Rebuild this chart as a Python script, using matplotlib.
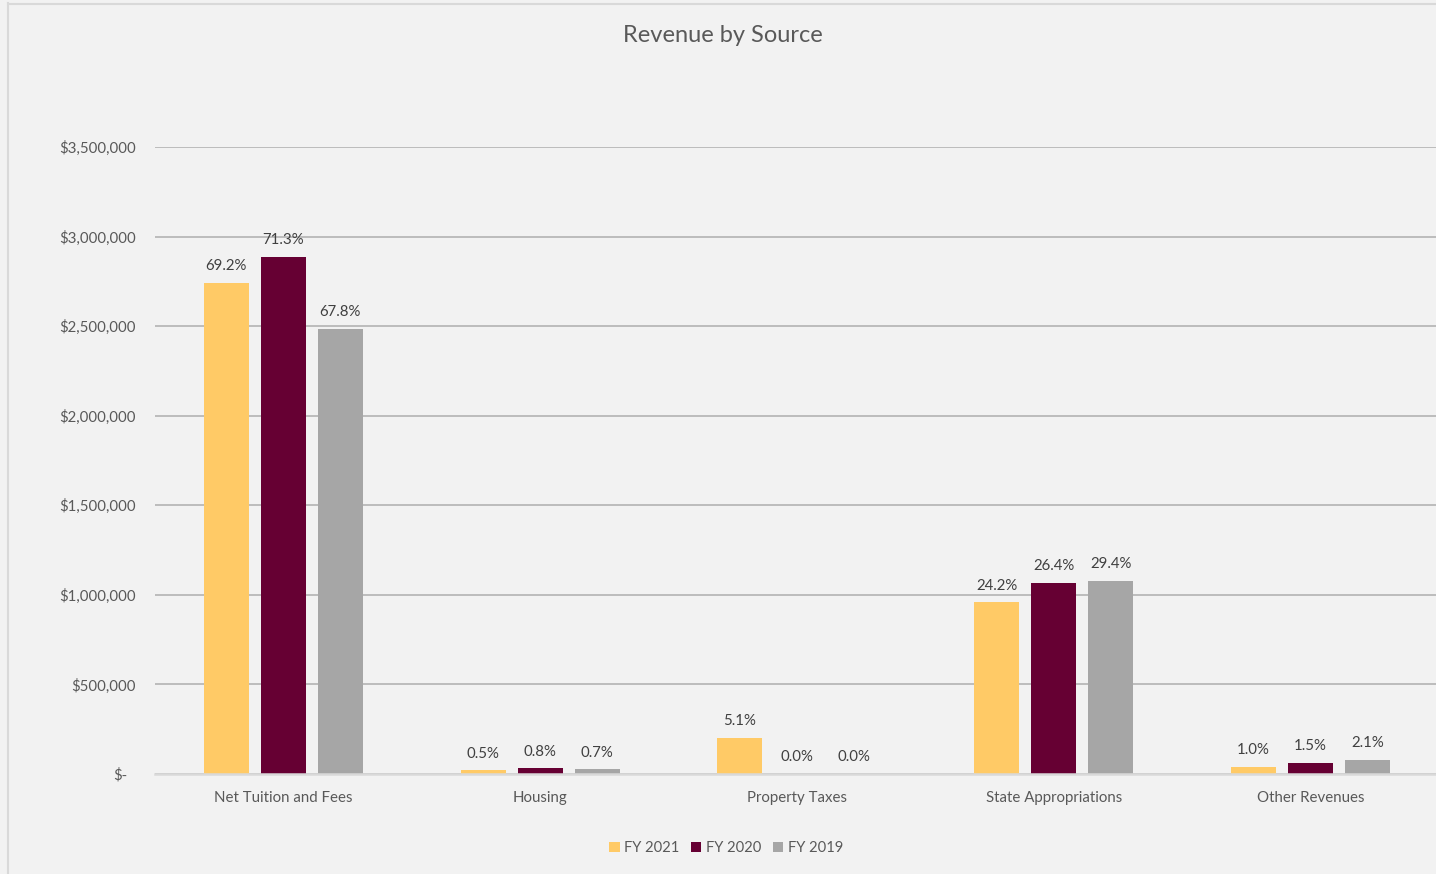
import matplotlib
matplotlib.use("Agg")
import matplotlib.pyplot as plt
import matplotlib.transforms as mtransforms
import numpy as np

categories = ["Net Tuition and Fees", "Housing", "Property Taxes", "State Appropriations", "Other Revenues"]
series_names = ["FY 2021", "FY 2020", "FY 2019"]
fy2021 = [2740000, 20000, 202000, 958000, 40000]
fy2020 = [2885000, 32000, 0, 1068000, 61000]
fy2019 = [2483000, 26000, 0, 1077000, 77000]
pct2021 = ["69.2%", "0.5%", "5.1%", "24.2%", "1.0%"]
pct2020 = ["71.3%", "0.8%", "0.0%", "26.4%", "1.5%"]
pct2019 = ["67.8%", "0.7%", "0.0%", "29.4%", "2.1%"]
yticks = [0, 500000, 1000000, 1500000, 2000000, 2500000, 3000000, 3500000]
ytick_labels = ["$-", "$500,000", "$1,000,000", "$1,500,000", "$2,000,000", "$2,500,000", "$3,000,000", "$3,500,000"]
colors = ["#FFCA66", "#660033", "#A6A6A6"]

plt.rcParams['font.family'] = ['Lato', 'DejaVu Sans']
W, H = 1436, 874
fig = plt.figure(figsize=(W / 100, H / 100), dpi=100)
fig.patch.set_facecolor("#F2F2F2")

# outer border (left and top)
fig.add_artist(plt.Line2D([7.5 / W, 7.5 / W], [0, 1 - 3 / H], transform=fig.transFigure, color="#D9D9D9", lw=1.5))
fig.add_artist(plt.Line2D([7.5 / W, 1], [1 - 3.5 / H, 1 - 3.5 / H], transform=fig.transFigure, color="#D9D9D9", lw=1.5))

left, right = 155, 1439
top, bottom = 147, 774
ax = fig.add_axes([left / W, 1 - bottom / H, (right - left) / W, (bottom - top) / H])
ax.set_facecolor("#F2F2F2")

x = np.arange(len(categories))
bw = 45 / 256.75
step = 57 / 256.75
data = [fy2021, fy2020, fy2019]
pcts = [pct2021, pct2020, pct2019]
for i, (vals, lab, col, pl) in enumerate(zip(data, series_names, colors, pcts)):
    bars = ax.bar(x + (i - 1) * step, vals, width=bw, color=col, label=lab, zorder=3)
    for b, t in zip(bars, pl):
        ax.annotate(t, (b.get_x() + b.get_width() / 2, b.get_height()), xytext=(0, 7),
                    textcoords="offset points", ha="center", va="bottom",
                    fontsize=10.8, color="#404040")

ax.set_xlim(-0.5, len(categories) - 0.5)
ax.set_ylim(0, 3500000)
ax.set_yticks(yticks)
ax.set_yticklabels(ytick_labels)
ax.set_xticks(x)
ax.set_xticklabels(categories)
ax.tick_params(axis="both", length=0, labelsize=10.8, labelcolor="#595959")
ax.tick_params(axis="y", pad=14)
ax.tick_params(axis="x", pad=12.5)
# shift "$-" label
zl = ax.get_yticklabels()[0]
zl.set_transform(zl.get_transform() + mtransforms.ScaledTranslation(-8 / 100, 0, fig.dpi_scale_trans))

ax.grid(axis="y", color="#B3B3B3", lw=1.2, zorder=0)
ax.grid(axis="x", visible=False)
for s in ["top", "right", "left"]:
    ax.spines[s].set_visible(False)
ax.spines["bottom"].set_color("#D9D9D9")
ax.spines["bottom"].set_linewidth(1.8)
ax.spines["bottom"].set_zorder(4)

fig.text(723 / W, 1 - 35 / H, "Revenue by Source", ha="center", va="center", fontsize=17, color="#595959")

leg = fig.legend(loc="center", bbox_to_anchor=(726 / W, 1 - 848 / H), ncol=3, frameon=False,
                 fontsize=10.6, handlelength=0.7, handleheight=0.7, handletextpad=0.3,
                 columnspacing=0.8, labelcolor="#595959")

fig.savefig("out.png", dpi=100, facecolor=fig.get_facecolor())
